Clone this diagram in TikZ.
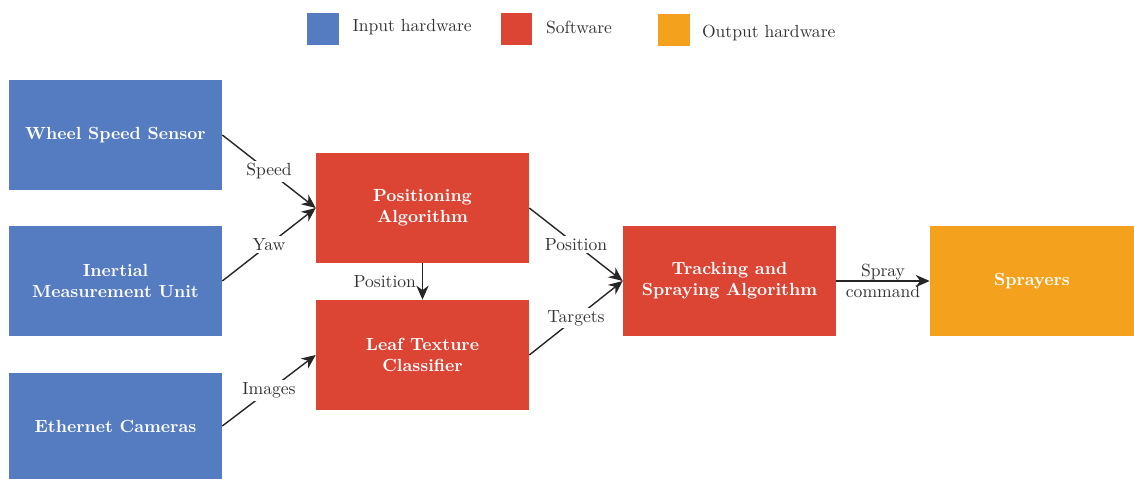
\documentclass[tikz,border=0pt]{standalone}
\usepackage{tikz}
\usetikzlibrary{arrows.meta, positioning}
\definecolor{inhw}{HTML}{557CC1}
\definecolor{soft}{HTML}{DC4434}
\definecolor{outhw}{HTML}{F4A21E}

\begin{document}
\begin{tikzpicture}[x=0.02cm, y=-0.02cm,
  blk/.style={rectangle, minimum width=4.26cm, minimum height=2.2cm, inner sep=2pt,
    align=center, text=white, font=\bfseries},
  inbox/.style={blk, fill=inhw},
  swbox/.style={blk, fill=soft},
  outbox/.style={blk, fill=outhw},
  legsq/.style={rectangle, minimum size=0.64cm, inner sep=0pt},
  flow/.style={line width=0.8pt, black!85, arrows={-Stealth[length=8pt, width=7pt]}},
  lbl/.style={fill=white, inner sep=1.5pt, text=black!80}]
  \useasboundingbox (0,0) rectangle (1134,479);

  % legend
  \node[legsq, fill=inhw] (Lin) at (323,29) {};
  \node[right = 0.14cm of Lin, yshift=1pt, text=black!80] (LinT) {Input hardware};
  \node[legsq, fill=soft] (Lsw) at (516.5,29) {};
  \node[right = 0.14cm of Lsw, yshift=1pt, text=black!80] (LswT) {Software};
  \node[legsq, fill=outhw] (Lout) at (673.5,30.5) {};
  \node[right = 0.12cm of Lout, yshift=-1.5pt, text=black!80] (LoutT) {Output hardware};

  % blocks
  \node[inbox] (wheel) at (115.5,135) {Wheel Speed Sensor};
  \node[inbox] (imu) at (115.5,281) {Inertial\\Measurement Unit};
  \node[inbox, minimum height=2.12cm] (cams) at (115.5,426) {Ethernet Cameras};
  \node[swbox] (pos) at (422.5,208) {Positioning\\Algorithm};
  \node[swbox] (leaf) at (422.5,355) {Leaf Texture\\Classifier};
  \node[swbox] (track) at (729.5,281) {Tracking and\\Spraying Algorithm};
  \node[outbox, minimum width=4.08cm] (spray) at (1032,281) {Sprayers};

  % connections
  \draw[flow] (wheel.east) -- node[lbl] {Speed} (pos.west);
  \draw[flow] (imu.east) -- node[lbl] {Yaw} (pos.west);
  \draw[flow] (cams.east) -- node[lbl] {Images} (leaf.west);
  \draw[flow] (pos.south) -- node[left, text=black!80] {Position} (leaf.north);
  \draw[flow] (pos.east) -- node[lbl] {Position} (track.west);
  \draw[flow] (leaf.east) -- node[lbl] {Targets} (track.west);
  \draw[flow] (track.east) -- node[align=center, text=black!80] {Spray\\command} (spray.west);
\end{tikzpicture}
\end{document}
